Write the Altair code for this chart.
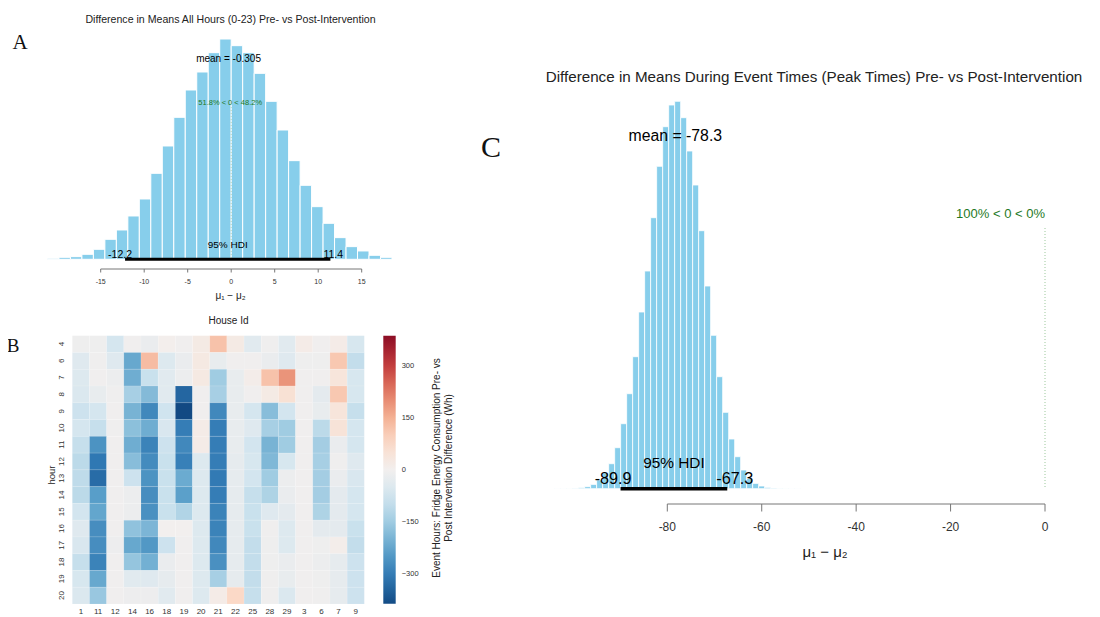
import altair as alt
import pandas as pd

FONT = "Liberation Sans"
SERIF = "Liberation Serif"
OFF = 8  # page margin


def P(v):
    return v - OFF


# ---------------- Panel A data ----------------
A_bin_left = [-21.12, -19.80, -18.48, -17.16, -15.84, -14.52, -13.20, -11.88, -10.56, -9.24,
              -7.92, -6.60, -5.28, -3.96, -2.64, -1.32, 0.00, 1.32, 2.64, 3.96,
              5.28, 6.60, 7.92, 9.24, 10.56, 11.88, 13.20, 14.52, 15.84, 17.16]
A_bin_right = [-19.80, -18.48, -17.16, -15.84, -14.52, -13.20, -11.88, -10.56, -9.24, -7.92,
               -6.60, -5.28, -3.96, -2.64, -1.32, 0.00, 1.32, 2.64, 3.96, 5.28,
               6.60, 7.92, 9.24, 10.56, 11.88, 13.20, 14.52, 15.84, 17.16, 18.48]
A_counts = [3, 6, 8, 15, 30, 60, 88, 130, 181, 258,
            340, 426, 508, 562, 620, 661, 641, 620, 558, 474,
            388, 296, 222, 158, 108, 65, 38, 25, 12, 6]
A_hdi = [-12.2, 11.4]
A_hdi_labels = ["-12.2", "11.4"]
A_mean = -0.305
A_ticks = [-15, -10, -5, 0, 5, 10, 15]
A_tick_labels = ["-15", "-10", "-5", "0", "5", "10", "15"]

# ---------------- Panel C data ----------------
C_bin_left = [-103.86, -102.59, -101.32, -100.05, -98.78, -97.51, -96.24, -94.97, -93.69, -92.42,
              -91.15, -89.88, -88.61, -87.34, -86.07, -84.80, -83.53, -82.26, -80.98, -79.71,
              -78.44, -77.17, -75.90, -74.63, -73.36, -72.09, -70.82, -69.55, -68.27, -67.00,
              -65.73, -64.46, -63.19, -61.92, -60.65, -59.38, -58.11, -56.84, -55.57, -54.30,
              -53.03]
C_bin_right = [-102.59, -101.32, -100.05, -98.78, -97.51, -96.24, -94.97, -93.69, -92.42, -91.15,
               -89.88, -88.61, -87.34, -86.07, -84.80, -83.53, -82.26, -80.98, -79.71, -78.44,
               -77.17, -75.90, -74.63, -73.36, -72.09, -70.82, -69.55, -68.27, -67.00, -65.73,
               -64.46, -63.19, -61.92, -60.65, -59.38, -58.11, -56.84, -55.57, -54.30, -53.03,
               -51.76]
C_counts = [0.2, 0.2, 0.3, 0.5, 1, 2, 4.3, 8.7, 16, 25,
            41, 65, 95, 132, 176.7, 217.7, 271, 322.4, 362, 383.7,
            387.4, 371, 337.7, 303.7, 258, 202.7, 153.4, 112, 76.4, 49.7,
            32, 18.7, 10.3, 5.3, 2.7, 1.3, 0.7, 0.4, 0.3, 0.2,
            0.2]
C_hdi = [-89.9, -67.3]
C_hdi_labels = ["-89.9", "-67.3"]
C_mean = -78.3
C_ticks = [-80, -60, -40, -20, 0]
C_tick_labels = ["-80", "-60", "-40", "-20", "0"]

# ---------------- Panel B data ----------------
houses = ["1", "11", "12", "14", "16", "18", "19", "20", "21", "22", "25", "28", "29", "3", "6", "7", "9"]
hours = ["4", "6", "7", "8", "9", "10", "11", "12", "13", "14", "15", "16", "17", "18", "19", "20"]
heat_rows = [
    [-10, -10, -70, -5, -20, 5, -5, 20, 120, 20, -40, -8, -40, 15, -5, 15, -65],
    [-45, -8, -45, -220, 130, -50, -20, 25, -25, -5, -5, -20, -45, -10, -10, 110, -100],
    [-50, -5, -15, -210, -90, -40, -15, 25, -150, -25, 10, 120, 190, -5, -5, 40, -65],
    [-55, -25, -8, -140, -185, -40, -340, -5, -140, -25, -5, 20, 55, -5, -35, 110, -65],
    [-85, -70, -5, -200, -280, -80, -390, -5, -280, -25, -70, -180, -75, -5, -25, 40, -95],
    [-70, -95, -8, -175, -210, -60, -300, 15, -300, -25, -45, -140, -150, -5, -110, 45, -70],
    [-95, -260, -5, -210, -290, -85, -280, 15, -300, -25, -75, -200, -150, -5, -145, -20, -70],
    [-110, -310, -5, -180, -275, -90, -295, -50, -300, -30, -65, -190, -65, -5, -140, -8, -45],
    [-105, -330, -5, -85, -260, -90, -215, -50, -305, -30, -75, -150, -15, -5, -145, -20, -60],
    [-110, -240, -5, -15, -270, -90, -235, -50, -300, -30, -95, -130, -20, -5, -145, -35, -70],
    [-75, -225, -5, -15, -265, -90, -125, -50, -290, -30, -90, -45, -35, -5, -130, -35, -70],
    [-45, -270, -5, -170, -195, 0, 0, -50, -290, -30, -90, -8, -50, -5, -35, -35, -90],
    [-60, -270, -12, -220, -250, -85, -5, -50, -280, -30, -100, -10, -50, -5, -10, 8, -100],
    [-95, -290, -5, -165, -205, -20, -5, -50, -265, -30, -100, -10, -20, -5, -15, -30, -85],
    [-65, -220, -5, -40, -45, -30, -5, -50, -140, -30, -100, -8, -25, -5, -10, -30, -85],
    [-55, -160, -5, -12, -12, -40, -5, -50, 15, 80, -95, -8, -55, -5, -8, -30, -85],
]
color_ticks = [-300, -150, 0, 150, 300]
color_limit = 387

BAR_FILL = "#87CEEB"
GREEN = "#1f7a1f"


def label(s, x, y, size, color="#222", font=FONT, angle=0, align="center", baseline="middle"):
    kw = dict(fontSize=size, font=font, color=color, align=align, baseline=baseline)
    if angle:
        kw["angle"] = angle
    return alt.Chart(pd.DataFrame({"t": [s]})).mark_text(**kw).encode(
        text="t:N", x=alt.value(P(x)), y=alt.value(P(y)))


def histogram_panel(bl, br, counts, hdi, hdi_labels, mean, ticks, tick_labels, sx, sy, cfg):
    X = lambda f: alt.X(f, type="quantitative", scale=sx, axis=None)
    Y = lambda f: alt.Y(f, type="quantitative", scale=sy, axis=None)
    df = pd.DataFrame({"lo": bl, "hi": br, "n": counts, "base": 0})
    bars = alt.Chart(df).mark_rect(fill=BAR_FILL, stroke="white", strokeWidth=cfg["bsw"]).encode(
        x=X("lo"), x2="hi:Q", y=Y("n"), y2="base:Q")
    comp = alt.Chart(pd.DataFrame({"v": [0]})).mark_rule(
        color=cfg["dotcol"], strokeWidth=1, strokeDash=[1, 2]).encode(
        x=X("v"), y=alt.value(P(cfg["dot_top"])), y2=alt.value(P(cfg["base_y"])))
    hdi_rule = alt.Chart(pd.DataFrame({"lo": [hdi[0]], "hi": [hdi[1]], "base": [0]})).mark_rule(
        color="black", strokeWidth=cfg["hdi_w"]).encode(x=X("lo"), x2="hi:Q", y=Y("base"))
    hl = alt.Chart(pd.DataFrame({"v": [hdi[0]], "t": [hdi_labels[0]]})).mark_text(
        align="right", dx=cfg["hdx"], fontSize=cfg["hfs"], font=FONT, color="black", baseline="alphabetic").encode(
        x=X("v"), y=alt.value(P(cfg["hdi_lab_y"])), text="t:N")
    hr = alt.Chart(pd.DataFrame({"v": [hdi[1]], "t": [hdi_labels[1]]})).mark_text(
        align="left", dx=-cfg["hdx"], fontSize=cfg["hfs"], font=FONT, color="black", baseline="alphabetic").encode(
        x=X("v"), y=alt.value(P(cfg["hdi_lab_y"])), text="t:N")
    hdi_title = alt.Chart(pd.DataFrame({"v": [(hdi[0] + hdi[1]) / 2], "t": ["95% HDI"]})).mark_text(
        fontSize=cfg["hfs"] * 0.95, font=FONT, color="black", baseline="alphabetic").encode(
        x=X("v"), y=alt.value(P(cfg["hdi_title_y"])), text="t:N")
    mean_t = alt.Chart(pd.DataFrame({"v": [mean], "t": [cfg["mean_text"]]})).mark_text(
        fontSize=cfg["mfs"], font=FONT, color="black", baseline="alphabetic").encode(
        x=X("v"), y=alt.value(P(cfg["mean_y"])), text="t:N")
    pct = alt.Chart(pd.DataFrame({"v": [0], "t": [cfg["pct_text"]]})).mark_text(
        fontSize=cfg["pfs"], font=FONT, color=GREEN, align=cfg["pct_align"], dx=cfg["pct_dx"],
        baseline="alphabetic").encode(x=X("v"), y=alt.value(P(cfg["pct_y"])), text="t:N")
    axis_line = alt.Chart(pd.DataFrame({"lo": [ticks[0]], "hi": [ticks[-1]]})).mark_rule(
        color="#777", strokeWidth=1).encode(x=X("lo"), x2="hi:Q", y=alt.value(P(cfg["axis_y"])))
    tick_df = pd.DataFrame({"v": ticks, "lab": tick_labels})
    tick_marks = alt.Chart(tick_df).mark_rule(color="#777", strokeWidth=1).encode(
        x=X("v"), y=alt.value(P(cfg["axis_y"])), y2=alt.value(P(cfg["axis_y"] + cfg["tick_len"])))
    tick_text = alt.Chart(tick_df).mark_text(fontSize=cfg["tfs"], font=FONT, color="#333",
                                             baseline="middle").encode(
        x=X("v"), y=alt.value(P(cfg["tick_lab_y"])), text="lab:N")
    return alt.layer(bars, comp, hdi_rule, hl, hr, hdi_title, mean_t, pct,
                     axis_line, tick_marks, tick_text)


# ---------------- Panel A ----------------
scAx = alt.Scale(domain=[-15, 15], range=[P(100.7), P(361.7)], nice=False, zero=False)
scAy = alt.Scale(domain=[0, 661], range=[P(259.3), P(39)], nice=False, zero=False)
panelA = histogram_panel(A_bin_left, A_bin_right, A_counts, A_hdi, A_hdi_labels, A_mean, A_ticks,
                         A_tick_labels, scAx, scAy, dict(
                             bsw=1, dotcol="#b8d4b8", dot_top=107, base_y=259, hdi_w=3,
                             hdx=7, hfs=10.5, hdi_lab_y=257.5, hdi_title_y=248,
                             mean_text="mean = -0.305", mfs=10, mean_y=61.5,
                             pct_text="51.8% < 0 < 48.2%", pfs=7.5, pct_align="center", pct_dx=-1,
                             pct_y=105,
                             axis_y=269, tick_len=3.5, tfs=7, tick_lab_y=282))

# ---------------- Panel C ----------------
scCx = alt.Scale(domain=[-80, 0], range=[P(667.3), P(1045)], nice=False, zero=False)
scCy = alt.Scale(domain=[0, 387.4], range=[P(488.7), P(101.3)], nice=False, zero=False)
panelC = histogram_panel(C_bin_left, C_bin_right, C_counts, C_hdi, C_hdi_labels, C_mean, C_ticks,
                         C_tick_labels, scCx, scCy, dict(
                             bsw=0.8, dotcol="#9cc89c", dot_top=228, base_y=488, hdi_w=3.5,
                             hdx=11, hfs=16.2, hdi_lab_y=483.5, hdi_title_y=468,
                             mean_text="mean = -78.3", mfs=15.8, mean_y=141,
                             pct_text="100% < 0 < 0%", pfs=13, pct_align="right", pct_dx=0,
                             pct_y=218,
                             axis_y=504, tick_len=7.5, tfs=12, tick_lab_y=526.5))

# ---------------- Panel B (heatmap) ----------------
heat_records = []
for hr_lab, row in zip(hours, heat_rows):
    for h_lab, v in zip(houses, row):
        heat_records.append({"house": h_lab, "hour": hr_lab, "val": v})
heat_df = pd.DataFrame(heat_records)

scBx = alt.Scale(domain=houses, range=[P(72.3), P(364.3)], paddingInner=0, paddingOuter=0)
scBy = alt.Scale(domain=hours, range=[P(335.7), P(604)], paddingInner=0, paddingOuter=0)

heat = alt.Chart(heat_df).mark_rect(stroke="white", strokeWidth=0.4, strokeOpacity=0.3).encode(
    x=alt.X("house:N", scale=scBx, sort=houses, axis=None),
    y=alt.Y("hour:N", scale=scBy, sort=hours, axis=None),
    color=alt.Color("val:Q",
                    scale=alt.Scale(scheme="redblue", domain=[-color_limit, color_limit], reverse=True),
                    legend=alt.Legend(orient="none", legendX=P(383.3), legendY=P(335.7),
                                      direction="vertical", gradientLength=268,
                                      gradientThickness=12.4, title=None, values=color_ticks,
                                      labelFontSize=7.5, labelColor="#333", labelFont=FONT,
                                      labelOffset=6, gradientStrokeWidth=0, padding=0,
                                      labelExpr="replace(datum.label, '-', '\u2212')")),
)
xlabs = alt.Chart(pd.DataFrame({"house": houses})).mark_text(
    fontSize=8, font=FONT, color="#333", baseline="middle").encode(
    x=alt.X("house:N", scale=scBx, sort=houses, axis=None), y=alt.value(P(612)), text="house:N")
ylabs = alt.Chart(pd.DataFrame({"hour": hours})).mark_text(
    fontSize=8, font=FONT, color="#333", baseline="middle", angle=270).encode(
    y=alt.Y("hour:N", scale=scBy, sort=hours, axis=None), x=alt.value(P(61.7)), text="hour:N")
panelB = alt.layer(heat, xlabs, ylabs)

# ---------------- Texts ----------------
texts = [
    label("Difference in Means All Hours (0-23) Pre- vs Post-Intervention", 230.5, 19.5, 10.6),
    label("\u03bc\u2081 \u2212 \u03bc\u2082", 230.5, 296, 10),
    label("A", 20, 48.5, 21, color="#111", font=SERIF, baseline="alphabetic"),
    label("House Id", 228.5, 320.7, 10),
    label("hour", 51.7, 475, 9.5, angle=270),
    label("Event Hours: Fridge Energy Consumption Pre- vs", 437, 468, 10, angle=270),
    label("Post Intervention Difference (Wh)", 449, 468, 10, angle=270),
    label("B", 13, 351.5, 19, color="#111", font=SERIF, baseline="alphabetic"),
    label("Difference in Means During Event Times (Peak Times) Pre- vs Post-Intervention",
          814, 77, 15.2),
    label("\u03bc\u2081 \u2212 \u03bc\u2082", 825, 551.5, 15),
    label("C", 491, 156.5, 30, color="#111", font=SERIF, baseline="alphabetic"),
]

chart = alt.layer(panelA, panelB, panelC, *texts).resolve_scale(
    x="independent", y="independent", color="independent"
).properties(
    width=1084, height=609, padding=0,
    autosize=alt.AutoSizeParams(type="none"),
).configure_view(stroke=None)

chart.save("out.html", embed_options={"renderer": "svg", "actions": False})
